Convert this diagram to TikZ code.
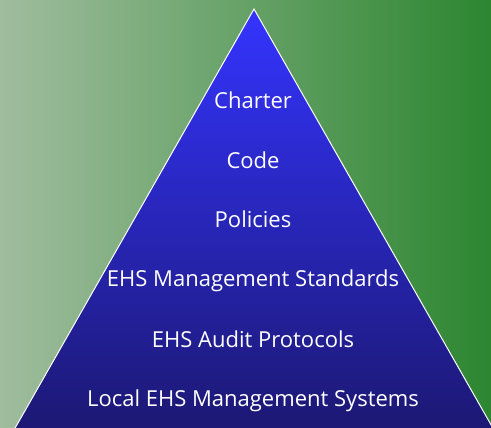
\documentclass[tikz,border=0pt]{standalone}
\usepackage{fontspec}
\setmainfont{Open Sans}
\definecolor{bgLeft}{RGB}{160,189,158}
\definecolor{bgRight}{RGB}{44,134,48}
\definecolor{triTop}{RGB}{52,52,255}
\definecolor{triBot}{RGB}{28,24,115}
\tikzset{
  level/.style={text=white, font=\fontsize{22}{26}\selectfont, anchor=base, inner sep=0pt},
}
\begin{document}
\begin{tikzpicture}[x=1pt,y=-1pt]
\useasboundingbox (0,0) rectangle (491,428);
\clip (0,0) rectangle (491,428);
\shade[left color=bgLeft, right color=bgRight] (0,0) rectangle (491,428);
\shade[top color=triTop, bottom color=triBot, draw=white, line width=1pt]
  (254,9) -- (494,430) -- (14,430) -- cycle;
\node[level] (charter) at (253,109) {Charter};
\node[level] (code) at (253,169) {Code};
\node[level] (policies) at (253,228) {Policies};
\node[level] (standards) at (253,287) {EHS Management Standards};
\node[level] (audit) at (253,347) {EHS Audit Protocols};
\node[level] (local) at (253,406) {Local EHS Management Systems};
\end{tikzpicture}
\end{document}
